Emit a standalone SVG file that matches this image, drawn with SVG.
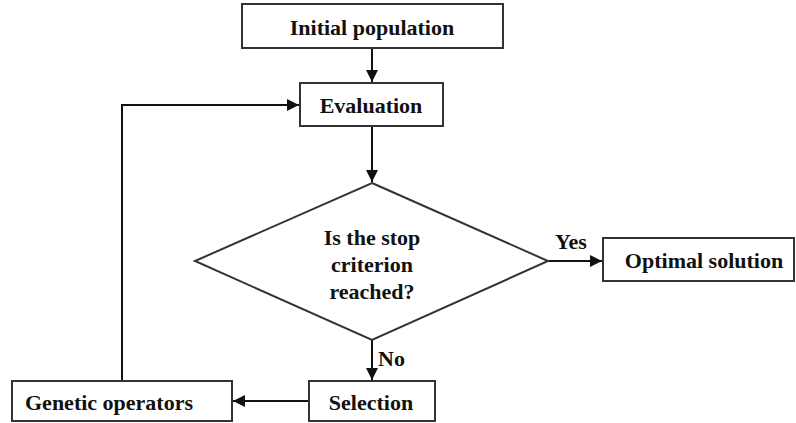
<svg xmlns="http://www.w3.org/2000/svg" width="796" height="423" viewBox="0 0 796 423">
<style>
.box{fill:#fff;stroke:#333;stroke-width:2}
.t{font-family:'Liberation Serif',Tinos,'Times New Roman','DejaVu Serif',serif;font-weight:bold;font-size:22px;fill:#111;text-anchor:middle}
.c{fill:none;stroke:#111;stroke-width:2}
</style>
<defs>
<marker id="ah" viewBox="0 0 10 10" refX="10" refY="5" markerWidth="12" markerHeight="12" markerUnits="userSpaceOnUse" orient="auto">
<path d="M0,0 L10,5 L0,10 z" fill="#111"/>
</marker>
</defs>
<rect width="796" height="423" fill="#fff"/>
<g id="connectors">
<line class="c" x1="372" y1="48" x2="372" y2="82" marker-end="url(#ah)"/>
<line class="c" x1="372" y1="126" x2="372" y2="182" marker-end="url(#ah)"/>
<line class="c" x1="548" y1="261" x2="602" y2="261" marker-end="url(#ah)"/>
<line class="c" x1="372" y1="340" x2="372" y2="380" marker-end="url(#ah)"/>
<line class="c" x1="309" y1="401" x2="233" y2="401" marker-end="url(#ah)"/>
<polyline class="c" points="122,381 122,105 299,105" marker-end="url(#ah)"/>
<text class="t" x="571" y="249">Yes</text>
<text class="t" x="378" y="366" style="text-anchor:start">No</text>
</g>
<g id="initial">
<rect class="box" x="242" y="4" width="261" height="44"/>
<text class="t" x="372" y="35">Initial population</text>
</g>
<g id="evaluation">
<rect class="box" x="300" y="83" width="143" height="43"/>
<text class="t" x="371" y="113">Evaluation</text>
</g>
<g id="decision">
<polygon class="box" points="372,183 548,261 372,340 195,261"/>
<text class="t" x="372" y="245">Is the stop</text>
<text class="t" x="372" y="272">criterion</text>
<text class="t" x="372" y="299">reached?</text>
</g>
<g id="optimal">
<rect class="box" x="603" y="238" width="191" height="43"/>
<text class="t" x="704" y="268">Optimal solution</text>
</g>
<g id="selection">
<rect class="box" x="309" y="381" width="126" height="40"/>
<text class="t" x="371" y="410">Selection</text>
</g>
<g id="genetic">
<rect class="box" x="12" y="381" width="220" height="40"/>
<text class="t" x="109" y="410">Genetic operators</text>
</g>
</svg>
